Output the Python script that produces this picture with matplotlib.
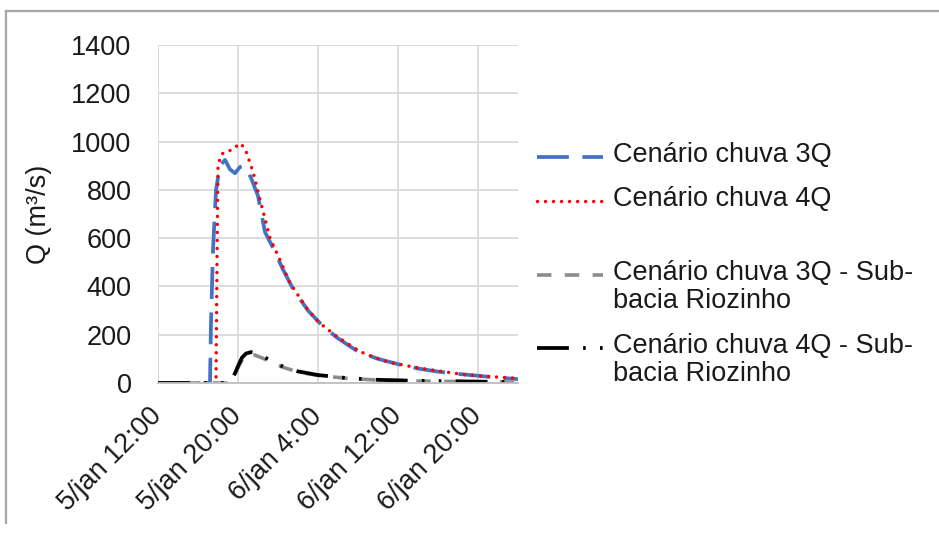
import matplotlib
matplotlib.use("Agg")
import matplotlib.pyplot as plt
from matplotlib.lines import Line2D

plt.rcParams['font.family'] = ['Liberation Sans', 'DejaVu Sans']

# hours counted from 5/jan 0:00
h_3q = [12, 14, 16, 17.2, 17.3, 17.5, 17.8, 18.2, 18.7, 19.2, 19.7, 20.2, 20.7, 21.3, 22.0,
        22.7, 23.5, 24.5, 25.5, 27, 28.5, 30, 32, 34, 36, 38, 40, 42.2, 45, 48]
q_3q = [0, 0, 0, 0, 250, 550, 800, 900, 924, 885, 869, 895, 900, 850, 775,
        625, 560, 470, 390, 300, 235, 185, 130, 100, 78, 60, 47, 37, 26, 16]

h_4q = [12, 14, 16, 17.8, 17.9, 18.0, 18.3, 18.7, 19.4, 20.2, 20.7, 21.5, 22.2, 23.2,
        24.2, 25.2, 26.9, 28, 29.9, 32.2, 33.7, 35.2, 38.2, 42.9, 48]
q_4q = [0, 0, 0, 0, 500, 900, 945, 958, 965, 993, 972, 875, 760, 600,
        509, 413, 309, 254, 192, 130, 105, 85, 61, 33, 19]

h_3q_rio = [12, 15, 19.0, 19.4, 19.8, 20.2, 20.6, 21.1, 21.6, 22.4, 23.5, 24.5, 26, 28, 31,
            34, 38, 42, 45, 48]
q_3q_rio = [0, 0, 0, 12, 45, 80, 108, 120, 117, 104, 84, 65, 46, 31, 19,
            12, 8, 6, 5, 3]

h_4q_rio = [12, 15, 19.0, 19.3, 19.7, 20.0, 20.4, 20.8, 21.3, 21.8, 22.5, 23.5, 24.5, 26, 28,
            31, 34, 38, 42, 45, 48]
q_4q_rio = [0, 0, 0, 10, 40, 70, 105, 122, 128, 124, 110, 88, 68, 48, 33,
            20, 13, 9, 7, 5, 4]

labels = ["Cenário chuva 3Q", "Cenário chuva 4Q",
          "Cenário chuva 3Q - Sub-\nbacia Riozinho", "Cenário chuva 4Q - Sub-\nbacia Riozinho"]

tick_hours = [12, 20, 28, 36, 44]
tick_labels = ["5/jan 12:00", "5/jan 20:00", "6/jan 4:00", "6/jan 12:00", "6/jan 20:00"]
y_ticks = [0, 200, 400, 600, 800, 1000, 1200, 1400]

txt = '#1a1a1a'
fs = 19.5

styles = [
    dict(color='#4472C4', lw=2.7, ls=(0, (8.5, 3.6))),
    dict(color='#FF0000', lw=2.5, ls=(0, (0.01, 2.3)), dash_capstyle='round'),
    dict(color='#8c8c8c', lw=2.6, ls=(0, (4.0, 3.7))),
    dict(color='#000000', lw=2.7, ls=(0, (8.5, 3.8, 0.7, 3.8, 0.7, 3.8))),
]

fig = plt.figure(figsize=(9.39, 5.34), dpi=100)
ax = fig.add_axes([158 / 939, 1 - 383 / 534, 360 / 939, 338 / 534])

series = [(h_3q, q_3q), (h_4q, q_4q), (h_3q_rio, q_3q_rio), (h_4q_rio, q_4q_rio)]
for (hh, qq), st in zip(series, styles):
    ax.plot(hh, qq, **st)

ax.set_xlim(12, 48)
ax.set_ylim(0, 1400)
ax.set_yticks(y_ticks)
ax.set_xticks(tick_hours)
ax.set_xticklabels(tick_labels, rotation=45, ha='right', va='center', rotation_mode='anchor')
ax.tick_params(axis='both', length=0, labelsize=fs, labelcolor=txt)
ax.tick_params(axis='y', pad=19)
ax.tick_params(axis='x', pad=21)
ax.grid(True, color='#d9d9d9', lw=1.3)
ax.set_axisbelow(True)
for s in ['top', 'right', 'left']:
    ax.spines[s].set_visible(False)
ax.spines['bottom'].set_color('#bfbfbf')
ax.spines['bottom'].set_linewidth(1.3)

ax.set_ylabel("Q (m³/s)", fontsize=fs, color=txt)
ax.yaxis.set_label_coords(-0.294, 0.5)

# legend drawn by hand so the handle sits on the first text line
leg_y = [157, 201, 275, 348]
for y, st, lab in zip(leg_y, styles, labels):
    yf = 1 - y / 534
    fig.add_artist(Line2D([537 / 939, 603 / 939], [yf, yf], **st))
    fig.text(613 / 939, yf + 15 / 534, lab, fontsize=fs, color=txt, va='top', ha='left',
             linespacing=1.08)

# chart frame
fig.add_artist(Line2D([6 / 939, 1], [1 - 11 / 534, 1 - 11 / 534], color='#a6a6a6', lw=1.6))
fig.add_artist(Line2D([6 / 939, 6 / 939], [1 - 11 / 534, 1 - 523 / 534], color='#a6a6a6', lw=1.6))

fig.savefig("out.png", dpi=100)
